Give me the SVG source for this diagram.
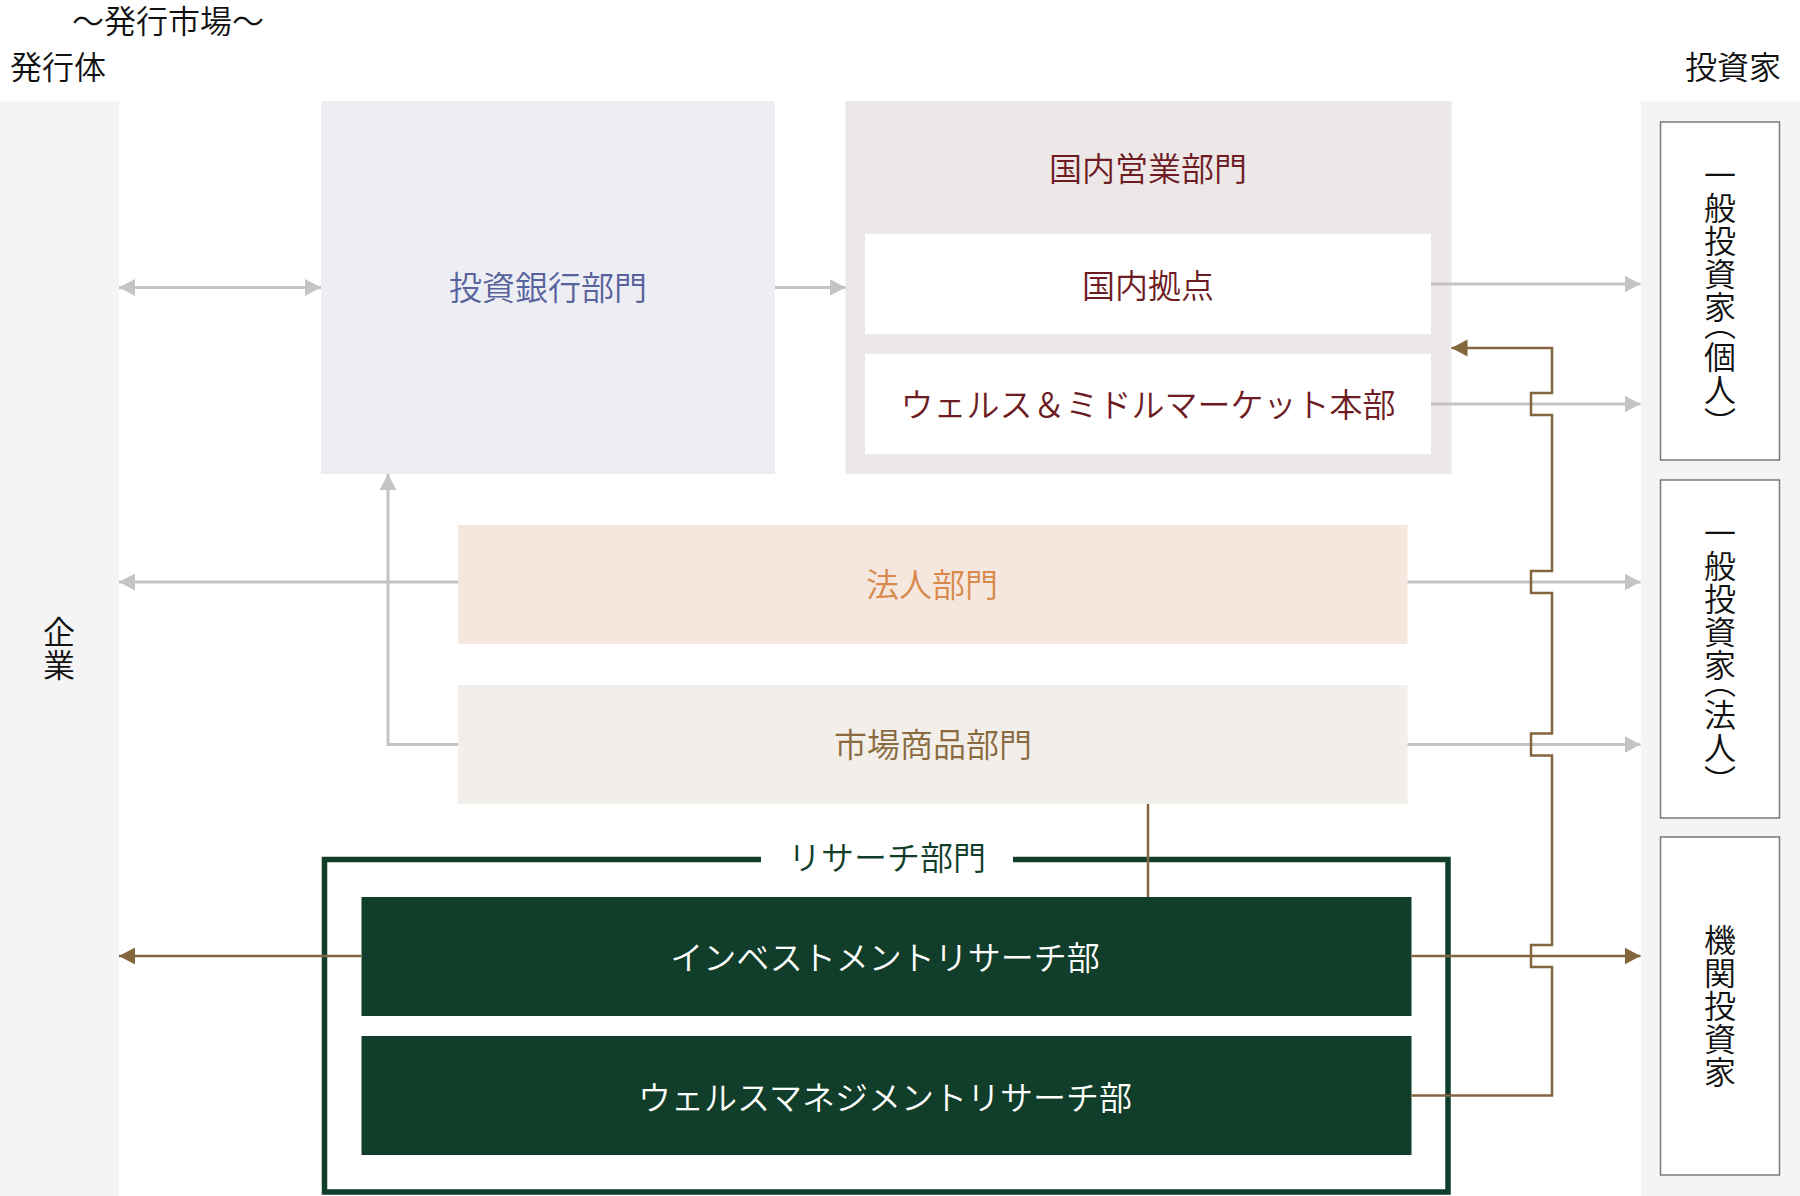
<svg xmlns="http://www.w3.org/2000/svg" width="1800" height="1196" viewBox="0 0 1800 1196">
<defs>
<style>
text{font-family:"Noto Sans CJK JP","Noto Sans CJK SC",sans-serif;dominant-baseline:central;font-weight:350;}
.lbl{font-size:33px;text-anchor:middle;}
.hd{font-size:32px;fill:#111;}
.vt{font-size:32px;fill:#111;writing-mode:vertical-rl;text-anchor:middle;letter-spacing:1px;font-feature-settings:"vhal" 1;}
.col{fill:#f4f4f4;}
.inv{fill:#fff;stroke:#7a7a7a;stroke-width:1.5;}
.g{fill:none;stroke:#c4c4c4;stroke-width:3;}
.b{fill:none;stroke:#83663d;stroke-width:2.5;}
</style>
<marker id="ag" markerUnits="userSpaceOnUse" markerWidth="17" markerHeight="18" refX="16" refY="8.5" orient="auto-start-reverse"><path d="M0,0 L16,8.5 L0,17 z" fill="#c4c4c4"/></marker>
<marker id="ab" markerUnits="userSpaceOnUse" markerWidth="17" markerHeight="18" refX="16" refY="8.5" orient="auto-start-reverse"><path d="M0,0 L16,8.5 L0,17 z" fill="#83663d"/></marker>
</defs>
<rect width="1800" height="1196" fill="#fff"/>

<g id="headings">
<text class="hd" x="72" y="19">～発行市場～</text>
<text class="hd" x="10" y="65">発行体</text>
<text class="hd" x="1685" y="65">投資家</text>
</g>

<g id="issuer">
<rect class="col" x="0" y="101" width="119" height="1095"/>
<text class="vt" x="59" y="649">企業</text>
</g>

<g id="investors">
<rect class="col" x="1641" y="101" width="159" height="1095"/>
<g id="inv-individual">
<rect class="inv" x="1660.5" y="122" width="119" height="338"/>
<text class="vt" x="1720" y="291">一般投資家（個人）</text>
</g>
<g id="inv-corporate">
<rect class="inv" x="1660.5" y="480" width="119" height="338"/>
<text class="vt" x="1720" y="649">一般投資家（法人）</text>
</g>
<g id="inv-institutional">
<rect class="inv" x="1660.5" y="837" width="119" height="338"/>
<text class="vt" x="1720" y="1006">機関投資家</text>
</g>
</g>

<g id="ib">
<rect x="321" y="101" width="454" height="373" fill="#edeef4"/>
<text class="lbl" x="548" y="286" fill="#58629c">投資銀行部門</text>
</g>

<g id="domestic">
<rect x="845.5" y="101" width="606" height="373" fill="#ede7e7"/>
<text class="lbl" x="1148" y="167" fill="#6e1c23">国内営業部門</text>
<g id="domestic-branches">
<rect x="865" y="234" width="566" height="100" fill="#fff"/>
<text class="lbl" x="1148" y="284" fill="#6e1c23">国内拠点</text>
</g>
<g id="wealth-middle">
<rect x="865" y="354" width="566" height="100" fill="#fff"/>
<text class="lbl" x="1148" y="403" fill="#6e1c23">ウェルス＆ミドルマーケット本部</text>
</g>
</g>

<g id="corporate">
<rect x="458" y="525" width="949.5" height="119" fill="#f5e7dd"/>
<text class="lbl" x="932" y="583" fill="#d88a4c">法人部門</text>
</g>

<g id="markets">
<rect x="458" y="685" width="949.5" height="119" fill="#f2eee9"/>
<text class="lbl" x="933" y="743" fill="#8a6a3f">市場商品部門</text>
</g>

<g id="research">
<rect x="324.5" y="859.5" width="1123.5" height="332.5" fill="none" stroke="#103e2a" stroke-width="5.5"/>
<rect x="761" y="845" width="252" height="30" fill="#fff"/>
<text class="lbl" x="887" y="856" fill="#103e2a">リサーチ部門</text>
<g id="investment-research">
<rect x="361.5" y="897" width="1050" height="119" fill="#103e2a"/>
<text class="lbl" x="885" y="956" fill="#fff">インベストメントリサーチ部</text>
</g>
<g id="wealth-research">
<rect x="361.5" y="1036" width="1050" height="119" fill="#103e2a"/>
<text class="lbl" x="885" y="1096" fill="#fff">ウェルスマネジメントリサーチ部</text>
</g>
</g>

<g id="connectors">
<path class="g" d="M119,287.5 H321" marker-start="url(#ag)" marker-end="url(#ag)"/>
<path class="g" d="M775,287.5 H845.5" marker-end="url(#ag)"/>
<path class="g" d="M1431,284 H1640.5" marker-end="url(#ag)"/>
<path class="g" d="M1431,404 H1640.5" marker-end="url(#ag)"/>
<path class="g" d="M458,582 H119" marker-end="url(#ag)"/>
<path class="g" d="M1407.5,582 H1640.5" marker-end="url(#ag)"/>
<path class="g" d="M1407.5,744.5 H1640.5" marker-end="url(#ag)"/>
<path class="g" d="M458,744.5 H388 V474" marker-end="url(#ag)"/>
<path class="b" d="M1148,804 V897"/>
<path class="b" d="M361.5,956 H119" marker-end="url(#ab)"/>
<path class="b" d="M1411.5,956 H1640.5" marker-end="url(#ab)"/>
<path class="b" d="M1411.5,1095.5 H1552 V967 H1531 V945 H1552 V755.5 H1531 V733.5 H1552 V593 H1531 V571 H1552 V415 H1531 V393 H1552 V348 H1451.5" marker-end="url(#ab)"/>
</g>
</svg>
